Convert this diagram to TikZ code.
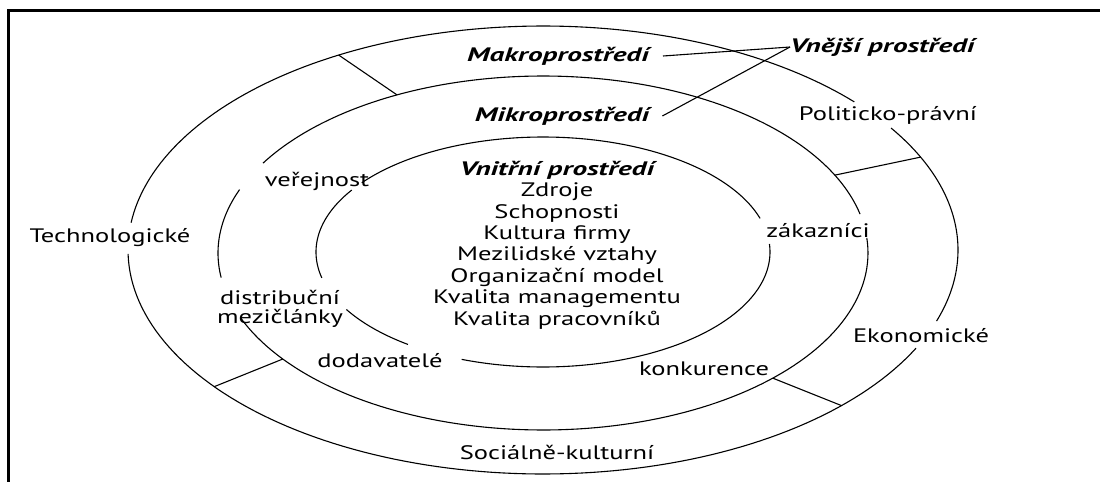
\documentclass[tikz,border=0pt]{standalone}
\usepackage{fontspec}
\setmainfont{PT Sans}[FakeStretch=1.36, BoldItalicFeatures={FakeStretch=1.5}]
\begin{document}
\begin{tikzpicture}[x=1pt,y=-1pt,
  lab/.style={font=\fontsize{19.5}{21.4}\selectfont, inner sep=0pt, align=center},
  head/.style={font=\fontsize{19.5}{21.4}\selectfont\bfseries\itshape, inner sep=0pt},
  ring/.style={line width=1.1pt, black},
  frameline/.style={line width=3pt, black},
  pointer/.style={line width=1.1pt, black}]
\useasboundingbox (0,0) rectangle (1100,482);
\fill[white] (0,0) rectangle (1100,482);
% frame
\draw[frameline] (1100,10) -- (8,10) -- (8,482);
\newcommand\ringarc[6]{\draw[ring] plot[domain=#5:#6, samples=100, variable=\t] ({#1+#3*cos(\t)},{#2+#4*sin(\t)});}
% outer ring (macro environment)
\ringarc{543}{250}{415}{224}{26}{179}
\ringarc{543}{250}{415}{224}{187}{318.6}
\ringarc{543}{250}{415}{224}{327}{378.5}
% middle ring (micro environment)
\ringarc{543}{253}{325}{177}{-4.9}{158}
\ringarc{543}{253}{325}{177}{172}{201}
\ringarc{543}{253}{325}{177}{210.5}{347.3}
% inner ring
\ringarc{543}{252}{227}{115}{-4}{111}
\ringarc{543}{252}{227}{115}{126.5}{150}
\ringarc{543}{252}{227}{115}{167}{212.6}
\ringarc{543}{252}{227}{115}{217}{343}
% radial dividers
\draw[ring] ({543+415*cos(240.5)},{250+224*sin(240.5)}) -- ({543+325*cos(243.3)},{253+177*sin(243.3)});
\draw[ring] ({543+325*cos(333.9)},{253+177*sin(333.9)}) -- ({543+415*cos(335.5)},{250+224*sin(335.5)});
\draw[ring] ({543+415*cos(142.4)},{250+224*sin(142.4)}) -- ({543+325*cos(143.2)},{253+177*sin(143.2)});
\draw[ring] ({543+325*cos(45)},{253+177*sin(45)}) -- ({543+415*cos(44)},{250+224*sin(44)});
% labels
\node[head] (makro) at (558,56) {Makroprostředí};
\node[head] (mikro) at (562,116) {Mikroprostředí};
\node[head, anchor=west] (vnejsi) at (790,47) {Vnější prostředí};
\node[lab] (polit) at (888,115) {Politicko-právní};
\node[lab] (verej) at (317,181) {veřejnost};
\node[lab] (tech) at (110,238) {Technologické};
\node[lab] (zak) at (818,231) {zákazníci};
\node[lab] (distr) at (280,309) {distribuční\\[-2pt]mezičlánky};
\node[lab] (ekon) at (921,336) {Ekonomické};
\node[lab] (dodav) at (380,361) {dodavatelé};
\node[lab] (konk) at (704,369) {konkurence};
\node[lab] (social) at (557,452) {Sociálně-kulturní};
\node[lab] (inner) at (557,245) {{\bfseries\itshape Vnitřní prostředí}\\Zdroje\\Schopnosti\\Kultura firmy\\Mezilidské vztahy\\Organizační model\\Kvalita managementu\\Kvalita pracovníků};
% pointers to "Vnější prostředí"
\draw[pointer] ([xshift=14pt]makro.east) -- (vnejsi.west);
\draw[pointer] ([xshift=13pt]mikro.east) -- (vnejsi.west);
\end{tikzpicture}
\end{document}
